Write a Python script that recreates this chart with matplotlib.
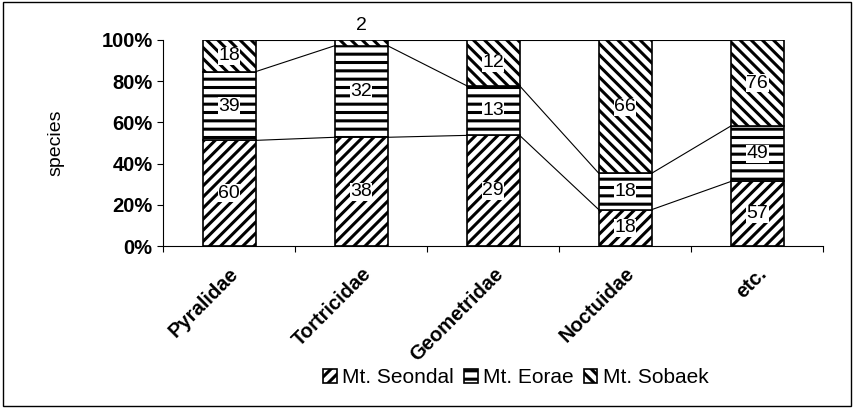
import matplotlib
matplotlib.use('Agg')
import matplotlib.pyplot as plt
import matplotlib.transforms as mtransforms
import numpy as np
from matplotlib.patches import Rectangle

families = ['Pyralidae', 'Tortricidae', 'Geometridae', 'Noctuidae', 'etc.']
seondal = [60, 38, 29, 18, 57]
eorae = [39, 32, 13, 18, 49]
sobaek = [18, 2, 12, 66, 76]
series_names = ['Mt. Seondal', 'Mt. Eorae', 'Mt. Sobaek']


def main():
    plt.rcParams['font.family'] = 'Liberation Sans'
    plt.rcParams['hatch.linewidth'] = 2.2

    counts = np.array([seondal, eorae, sobaek], dtype=float)
    pct = counts / counts.sum(axis=0) * 100
    bottoms = np.vstack([np.zeros(len(families)), np.cumsum(pct, axis=0)[:-1]])
    tops = np.cumsum(pct, axis=0)

    fig = plt.figure(figsize=(8.54, 4.08), dpi=100)
    ax = fig.add_axes([0.191, 0.397, 0.773, 0.505])
    x = np.arange(len(families))
    width = 0.4
    hatches = ['///', '--', '\\\\\\']

    for i in range(3):
        ax.bar(x, pct[i], width, bottom=bottoms[i], color='white', edgecolor='black',
               hatch=hatches[i], linewidth=1.2, label=series_names[i], zorder=2)

    # series lines between bars
    for i in range(3):
        for j in range(len(families) - 1):
            ax.plot([x[j] + width / 2, x[j + 1] - width / 2], [tops[i][j], tops[i][j + 1]],
                    color='black', linewidth=0.8, zorder=1)

    # value labels
    for i in range(3):
        for j in range(len(families)):
            val = counts[i][j]
            if pct[i][j] < 5:
                ax.text(x[j], 103, '%d' % val, ha='center', va='bottom', fontsize=14,
                        clip_on=False)
            else:
                ax.text(x[j], bottoms[i][j] + pct[i][j] / 2, '%d' % val, ha='center',
                        va='center', fontsize=14, zorder=3,
                        bbox=dict(facecolor='white', edgecolor='none', pad=0.3))

    ax.set_xlim(-0.5, len(families) - 0.5)
    ax.set_ylim(0, 100)
    ax.set_yticks(np.arange(0, 101, 20))
    ax.set_yticklabels(['%d%%' % v for v in range(0, 101, 20)], fontsize=14.5, fontweight='bold')
    ax.set_xticks(np.arange(-0.5, len(families)), minor=False)
    ax.set_xticklabels([])
    ax.set_xticks(x, minor=True)
    ax.set_xticklabels(families, minor=True, rotation=45, ha='right', rotation_mode='anchor',
                       fontsize=14.5, fontweight='bold')
    shift = mtransforms.ScaledTranslation(-13 / 100, 0, fig.dpi_scale_trans)
    for lab in ax.get_xticklabels(minor=True):
        lab.set_transform(lab.get_transform() + shift)
    ax.tick_params(axis='x', which='minor', length=0, pad=13)
    ax.tick_params(axis='x', which='major', length=4, direction='out')
    ax.tick_params(axis='y', length=4, direction='out')
    ax.set_ylabel('species', fontsize=14, labelpad=27)
    for s in ['top', 'right']:
        ax.spines[s].set_visible(False)

    fig.legend(loc='center', bbox_to_anchor=(0.604, 0.074), ncol=3, frameon=False,
               fontsize=15, handlelength=0.65, handleheight=0.65, handletextpad=0.25,
               columnspacing=0.5)

    fig.patches.append(Rectangle((0.003, 0.005), 0.994, 0.99, transform=fig.transFigure,
                                 fill=False, edgecolor='black', linewidth=1))
    plt.savefig('out.png', dpi=100)


if __name__ == '__main__':
    main()
